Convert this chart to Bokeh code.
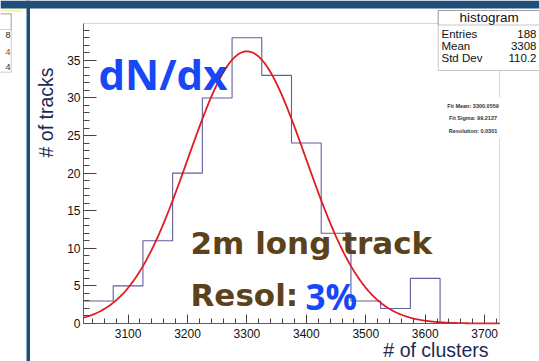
import numpy as np
from bokeh.plotting import figure
from bokeh.models import Label, BoxAnnotation, Range1d, FixedTicker
from bokeh.embed import file_html
from bokeh.resources import INLINE

# ---- histogram: number of clusters per 2 m track ----
bin_start = 3025
bin_width = 50
counts = [3, 5, 11, 20, 30, 38, 33, 24, 12, 3, 2, 6, 0, 0]
entries = 188
hist_mean = 3308
hist_std = 110.2

# ---- gaussian fit ----
fit_const = 36.2
fit_mean = 3300.0559
fit_sigma = 99.2127

x_ticks = [3100, 3200, 3300, 3400, 3500, 3600, 3700]
y_ticks = [0, 5, 10, 15, 20, 25, 30, 35]

# ---- canvas geometry (pixels) ----
W, H = 539, 361
F_LEFT, F_RIGHT, F_TOP, F_BOTTOM = 83, 499, 23, 323
X0, X1 = bin_start, bin_start + bin_width * len(counts)
Y0, Y1 = 0, max(counts) * 1.05


def dx(px):
    """canvas pixel column -> data x"""
    return X0 + (px - F_LEFT) / (F_RIGHT - F_LEFT) * (X1 - X0)


def dy(py):
    """canvas pixel row (from top) -> data y"""
    return Y0 + (F_BOTTOM - py) / (F_BOTTOM - F_TOP) * (Y1 - Y0)


# the frame fills the whole canvas; the histogram axes sit at fixed locations
p = figure(width=W, height=H,
           x_range=Range1d(dx(0), dx(W)), y_range=Range1d(dy(H), dy(0)),
           output_backend="svg", toolbar_location=None, min_border=0)
p.title.visible = False
p.background_fill_color = "white"
p.border_fill_color = "white"
p.outline_line_color = None
p.xgrid.visible = False
p.ygrid.visible = False

LABEL_FONT = "Liberation Sans"
NAVY = "#1c2a55"

for ax in (p.xaxis[0], p.yaxis[0]):
    ax.axis_line_color = "#555555"
    ax.major_tick_line_color = "#444444"
    ax.minor_tick_line_color = "#444444"
    ax.major_tick_out = 0
    ax.minor_tick_out = 0
    ax.major_label_text_font = LABEL_FONT
    ax.major_label_text_font_size = "12px"
    ax.major_label_text_color = "#111111"

p.xaxis.fixed_location = Y0
p.xaxis.bounds = (X0, X1)
p.xaxis.ticker = FixedTicker(ticks=x_ticks,
                             minor_ticks=list(range(3040, 3725, 20)))
p.xaxis.major_tick_in = 9
p.xaxis.minor_tick_in = 5
p.xaxis.major_label_standoff = 5

p.yaxis.fixed_location = X0
p.yaxis.bounds = (Y0, Y1)
p.yaxis.ticker = FixedTicker(ticks=y_ticks, minor_ticks=list(range(0, 40)))
p.yaxis.major_tick_in = 13
p.yaxis.minor_tick_in = 6
p.yaxis.major_label_standoff = 3

# histogram outline
edges = [bin_start + bin_width * i for i in range(len(counts) + 1)]
p.step(edges, counts + [counts[-1]], mode="after",
       line_color="#5f5f9e", line_width=1.1)

# fitted gaussian
xf = np.linspace(X0, X1, 400)
yf = fit_const * np.exp(-0.5 * ((xf - fit_mean) / fit_sigma) ** 2)
p.line(xf, yf, line_color="#e11b22", line_width=1.8)

resolution = fit_sigma / fit_mean

# frame top / right edges
p.add_layout(BoxAnnotation(left=X0, right=X1, bottom=Y0, top=Y1,
                           fill_alpha=0, line_color="#7a7a7a", line_width=1))

# ---- page decorations ----
DARK = "#1f4e79"
p.add_layout(BoxAnnotation(left=dx(0), right=dx(W), top=dy(0), bottom=dy(8),
                           fill_color=DARK, fill_alpha=1, line_alpha=0))
p.add_layout(BoxAnnotation(left=dx(26), right=dx(29.5), top=dy(0), bottom=dy(H),
                           fill_color=DARK, fill_alpha=1, line_alpha=0))
p.add_layout(BoxAnnotation(left=dx(0), right=dx(22), top=dy(9.3), bottom=dy(11),
                           fill_color="#f2f29a", fill_alpha=1, line_alpha=0))
# neighbouring stats box (cut off)
p.add_layout(BoxAnnotation(left=dx(-30), right=dx(10.7), top=dy(13.3), bottom=dy(71.7),
                           fill_alpha=0, line_color="#555555", line_width=1))
p.add_layout(BoxAnnotation(left=dx(-30), right=dx(10.7), top=dy(13.3), bottom=dy(29),
                           fill_alpha=0, line_color="#555555", line_width=1))
for txt, py, col in [("8", 34.5, "#222222"), ("4", 51, "#8a4a1c"), ("4", 66.5, "#22335e")]:
    p.add_layout(Label(x=dx(10), y=dy(py), text=txt, text_align="right",
                       text_baseline="middle", text_font=LABEL_FONT,
                       text_font_size="9px", text_color=col))

# ---- stats box ----
SB_L, SB_R = 437.7, 560
p.add_layout(BoxAnnotation(left=dx(SB_L), right=dx(SB_R), top=dy(10), bottom=dy(70),
                           fill_color="white", fill_alpha=1,
                           line_color="#444444", line_width=1))
p.add_layout(BoxAnnotation(left=dx(SB_L), right=dx(SB_R), top=dy(10), bottom=dy(24.5),
                           fill_alpha=0, line_color="#444444", line_width=1))
p.add_layout(Label(x=dx(488.7), y=dy(17.3), text="histogram", text_align="center",
                   text_baseline="middle", text_font=LABEL_FONT,
                   text_font_size="13.5px", text_color="#111111"))
for name, val, py in [("Entries", f"{entries}", 33),
                      ("Mean", f"{hist_mean}", 45),
                      ("Std Dev", f"{hist_std}", 57)]:
    p.add_layout(Label(x=dx(441), y=dy(py), text=name, text_align="left",
                       text_baseline="middle", text_font=LABEL_FONT,
                       text_font_size="11.5px", text_color="#111111"))
    p.add_layout(Label(x=dx(536), y=dy(py), text=val, text_align="right",
                       text_baseline="middle", text_font=LABEL_FONT,
                       text_font_size="11.5px", text_color="#111111"))

# ---- fit summary ----
p.add_layout(BoxAnnotation(left=dx(446), right=dx(504), top=dy(97), bottom=dy(138),
                           fill_color="white", fill_alpha=1, line_alpha=0))
for txt, py in [(f"Fit Mean: {fit_mean:.4f}", 105),
                (f"Fit Sigma: {fit_sigma:.4f}", 117),
                (f"Resolution: {resolution:.4f}", 130.5)]:
    p.add_layout(Label(x=dx(472.5), y=dy(py), text=txt, text_align="center",
                       text_baseline="middle", text_font=LABEL_FONT,
                       text_font_style="bold", text_font_size="5.5px",
                       text_color="#333333"))

# ---- axis titles ----
p.add_layout(Label(x=dx(45), y=dy(67), text="# of tracks", angle=np.pi / 2,
                   text_align="right", text_baseline="middle", text_font=LABEL_FONT,
                   text_font_size="19.5px", text_color=NAVY))
p.add_layout(Label(x=dx(488), y=dy(349.5), text="# of clusters",
                   text_align="right", text_baseline="middle", text_font=LABEL_FONT,
                   text_font_size="19.5px", text_color=NAVY))

# ---- annotations ----
BLUE = "#1848f5"
BROWN = "#5c421a"
p.add_layout(Label(x=dx(98), y=dy(73), text="dN/dx", text_align="left",
                   text_baseline="alphabetic", text_font="Open Sans",
                   text_font_style="bold", text_font_size="42px", text_color=BLUE))
p.add_layout(Label(x=dx(190), y=dy(242), text="2m long track", text_align="left",
                   text_baseline="alphabetic", text_font="DejaVu Sans",
                   text_font_style="bold", text_font_size="31px", text_color=BROWN))
p.add_layout(Label(x=dx(190), y=dy(294), text="Resol:", text_align="left",
                   text_baseline="alphabetic", text_font="DejaVu Sans",
                   text_font_style="bold", text_font_size="31px", text_color=BROWN))
p.add_layout(Label(x=dx(305), y=dy(296), text=f"{round(resolution * 100)}%",
                   text_align="left", text_baseline="alphabetic", text_font="Open Sans",
                   text_font_style="bold", text_font_size="35px", text_color=BLUE))

open("out.html", "w").write(file_html(p, INLINE))
